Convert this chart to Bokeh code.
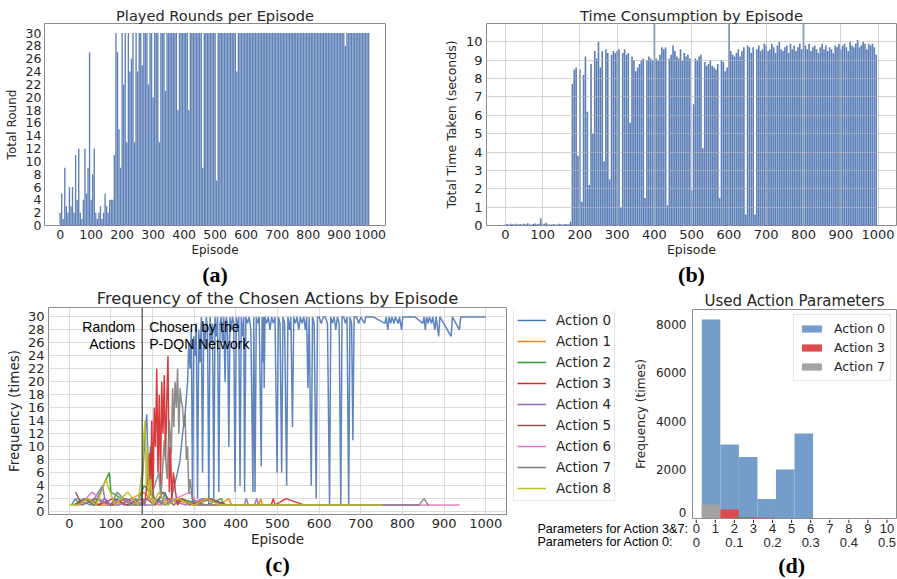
from bokeh.plotting import figure
from bokeh.layouts import row, column
from bokeh.models import (Label, Legend, LegendItem, Span, FixedTicker, Range1d, Title)
from bokeh.core.properties import value
from bokeh.embed import file_html
from bokeh.resources import INLINE

# ---------------- data ----------------
# (a) played rounds per episode (sampled every 5 episodes)
episodes = list(range(0, 1000, 5))
rounds = [2, 5, 1, 9, 3, 2, 6, 3, 6, 2, 11, 4, 12, 2, 1, 4, 12, 5, 9, 27,
          4, 8, 12, 2, 1, 2, 3, 1, 2, 5, 3, 2, 4, 4, 4, 11,
          30, 27, 15, 9, 30, 22, 30, 13, 30, 24, 26, 30, 13, 30, 24, 30, 30, 25, 30, 30,
          30, 22, 30, 30,
          20, 30, 30, 30, 13, 30, 30, 30, 21, 30, 30, 30, 30, 30, 30, 30, 18, 30, 30, 30,
          30, 30, 30, 18, 30, 30, 30, 30, 30, 30, 30, 30, 9, 30, 30, 30, 30, 30, 30, 30,
          30, 7, 30, 30, 30, 30, 30, 30, 30, 30, 30, 30, 30, 30, 24, 30, 30, 30, 30, 30,
          30, 30, 30, 30, 30, 30, 30, 30, 30, 30, 30, 30, 30, 30, 30, 30, 30, 30, 30, 30,
          30, 30, 30, 30, 30, 30, 30, 30, 30, 30, 30, 30, 30, 30, 30, 30, 30, 30, 30, 30,
          30, 30, 30, 30, 30, 30, 30, 30, 30, 30, 30, 30, 30, 30, 30, 30, 30, 30, 30, 30,
          30, 30, 30, 30, 28, 30, 30, 30, 30, 30, 30, 30, 30, 30, 30, 30, 30, 30, 30, 30]

# (b) time taken per episode (seconds, sampled every 5 episodes)
times = [0.05, 0.08, 0.06, 0.1, 0.07, 0.05, 0.09, 0.06, 0.08, 0.05,
         0.1, 0.07, 0.12, 0.06, 0.05, 0.08, 0.11, 0.07, 0.09, 0.4,
         0.07, 0.1, 0.15, 0.06, 0.05, 0.06, 0.08, 0.05, 0.06, 0.1,
         0.07, 0.06, 0.08, 0.07, 0.07, 0.2,
         7.7, 8.5, 8.6, 3.8, 8.5, 1.3, 8.2, 9.2, 6.2, 2.2,
         8.8, 5.0, 9.5, 9.1, 10.0, 8.6, 9.5, 3.5, 9.6, 9.4,
         2.5, 9.3, 9.5, 9.4,
         9.5, 9.6, 1.0, 9.4, 9.6, 9.3, 9.4, 5.6, 9.2, 9.0,
         8.4, 8.6, 8.8, 9.0, 9.1, 1.5, 9.0, 9.2, 9.1, 9.0,
         12.0, 9.1, 9.0, 9.3, 9.7, 9.6, 9.7, 1.1, 9.1, 9.3,
         9.8, 9.5, 9.2, 9.1, 9.6, 9.0, 9.4, 9.2, 9.3, 9.1,
         1.9, 6.6, 9.1, 9.0, 9.2, 9.3, 4.2, 8.9, 8.7, 8.8,
         9.0, 8.7, 8.6, 8.5, 8.8, 1.5, 9.0, 8.9, 8.4, 8.6,
         12.0, 9.5, 9.3, 9.2, 9.4, 9.6, 9.2, 9.5, 9.7, 0.6,
         9.8, 9.7, 9.4, 9.7, 0.6, 9.6, 9.8, 9.5, 9.6, 9.9,
         9.8, 9.5, 9.6, 9.9, 9.7, 9.4, 9.8, 10.0, 9.6, 9.5,
         9.7, 9.8, 9.4, 9.9, 9.6, 9.8, 9.5, 9.7, 9.9, 9.6,
         12.0, 9.8, 9.6, 9.9, 9.5, 9.7, 9.8, 9.6, 9.4, 9.7,
         9.9, 9.6, 9.8, 9.5, 9.7, 9.6, 9.4, 9.8, 9.7, 9.9,
         9.6, 9.8, 9.9, 9.7, 9.5, 10.0, 9.8, 9.7, 9.9, 10.1,
         9.7, 9.8, 10.0, 9.9, 9.6, 9.9, 9.8, 9.9, 9.7, 9.3]

# (c) frequency of chosen actions (episode, count)
a0_ep = [5, 15, 25, 40, 55, 70, 85, 100, 115, 130, 145, 160, 172, 183, 186, 190, 195, 200,
         208, 215, 222, 230, 238, 245, 252, 260, 266, 272, 278,
         284, 287, 290, 293, 296, 299, 302, 305, 308, 311, 314, 317, 320, 323, 326, 329,
         332, 335, 338, 341, 344, 347, 350, 353, 356, 359, 362, 365, 368, 371, 374, 377,
         380, 383, 386, 389, 392, 395, 398, 401, 404, 407, 410, 413, 416, 419,
         421, 424, 428, 432, 436, 441, 443, 446, 449, 452, 456, 461, 463, 465, 467, 468,
         470, 474, 478, 482, 486, 490, 494, 499, 502, 506, 510, 513, 517, 522, 525, 529,
         532, 536, 539, 543, 547, 551, 555, 559, 563, 567, 570, 573, 576, 581, 584, 588,
         593, 596, 600, 605, 610, 615, 620, 625, 628, 632, 636, 640, 644, 648, 652, 655,
         659, 663, 667, 671, 674, 678, 681, 684, 690, 695, 700,
         709, 712, 730, 758, 761, 765, 768, 772, 775, 780, 783, 790, 793, 798, 801, 830,
         849, 852, 855, 858, 862, 865, 870, 873, 878, 881, 887, 890, 917, 920, 937, 940, 1000]
a0_ct = [1, 2, 1, 2, 1, 1, 2, 1, 2, 1, 1, 2, 1, 13, 15, 4, 10, 3,
         1, 2, 1, 3, 1, 2, 4, 6, 8, 12, 15,
         20, 26, 22, 28, 1, 27, 24, 29, 2, 28, 23, 30, 6, 29, 25, 30,
         28, 1, 30, 26, 29, 2, 30, 27, 30, 3, 29, 30, 26, 30, 20, 30,
         29, 10, 30, 28, 30, 29, 3, 30, 28, 30, 4, 30, 27, 30,
         3, 30, 29, 30, 28, 3, 30, 3, 30, 29, 30, 7, 30, 23, 30, 19,
         30, 29, 30, 28, 30, 29, 30, 6, 30, 29, 6, 30, 29, 4, 30, 28,
         30, 13, 30, 29, 30, 28, 30, 29, 30, 28, 30, 19, 30, 4, 30, 29,
         2, 30, 30, 29, 30, 30, 29, 1, 30, 29, 30, 28, 30, 29, 1, 30,
         30, 29, 30, 1, 30, 29, 11, 30, 30, 29, 30,
         29, 30, 30, 29, 30, 28, 30, 29, 30, 29, 30, 29, 30, 28, 30, 30,
         29, 30, 28, 30, 29, 30, 29, 30, 28, 30, 27, 30, 27, 30, 28, 30, 30]
a1_ep = [20, 45, 75, 110, 150, 178, 195, 215, 240, 300, 360, 383, 390, 455, 460, 464]
a1_ct = [1, 2, 1, 1, 2, 3, 2, 1, 2, 1, 1, 2, 1, 1, 2, 1]
a2_ep = [10, 35, 60, 96, 100, 125, 160, 180, 205, 230, 260, 330, 365, 370]
a2_ct = [1, 2, 1, 6, 3, 2, 1, 4, 2, 1, 2, 1, 2, 1]
a3_ep = [15, 40, 70, 105, 140, 176, 181, 188, 192, 195, 198, 201, 204, 207, 210, 213,
         216, 219, 222, 225, 228, 231, 234, 237, 240, 243, 246, 250, 255, 260, 270,
         290, 330, 375, 485, 490, 494, 520, 565]
a3_ct = [1, 2, 1, 2, 1, 2, 1, 5, 9, 3, 14, 2, 16, 10, 22, 6,
         18, 4, 20, 12, 21, 8, 17, 24, 3, 10, 2, 6, 3, 1, 2,
         1, 2, 1, 1, 2, 1, 2, 1]
a4_ep = [20, 50, 80, 85, 95, 120, 150, 178, 200, 230, 280, 320, 378, 420, 425, 430,
         445, 450, 455, 840]
a4_ct = [2, 1, 4, 2, 1, 1, 2, 1, 1, 2, 1, 2, 1, 1, 2, 1, 1, 2, 1, 1]
a5_ep = [15, 30, 65, 100, 135, 170, 185, 205, 225, 250, 270, 300, 340, 380]
a5_ct = [3, 1, 2, 1, 2, 1, 2, 1, 3, 1, 2, 1, 2, 1]
a6_ep = [25, 55, 90, 130, 165, 190, 220, 255, 290, 310, 345, 937]
a6_ct = [1, 3, 1, 2, 1, 2, 1, 2, 3, 1, 1, 1]
a7_ep = [30, 60, 100, 115, 145, 175, 200, 215, 220, 228, 235, 240, 245, 248, 251, 254,
         257, 260, 263, 266, 269, 272, 275, 278, 281, 284, 287, 290, 295, 310, 350,
         400, 840, 852, 862]
a7_ct = [1, 2, 1, 3, 1, 1, 3, 6, 2, 11, 5, 14, 9, 19, 13, 20,
         16, 22, 12, 19, 17, 16, 13, 15, 8, 10, 3, 5, 2, 1, 1,
         1, 1, 2, 1]
a8_ep = [0, 20, 45, 65, 88, 92, 98, 110, 140, 165, 176, 179, 182, 185, 188, 191, 195,
         200, 215, 235, 260, 300, 330, 360, 390, 753]
a8_ct = [1, 1, 2, 1, 5, 4, 3, 1, 3, 1, 7, 12, 14, 4, 10, 2, 5,
         1, 3, 1, 2, 1, 2, 1, 1, 1]

action_names = ["Action 0", "Action 1", "Action 2", "Action 3", "Action 4",
                "Action 5", "Action 6", "Action 7", "Action 8"]
action_colors = ["#4c78b8", "#ff7f0e", "#2ca02c", "#d62728", "#9467bd",
                 "#8c564b", "#e377c2", "#7f7f7f", "#bcbd22"]

# (d) histogram of used action parameters
bin_left = [0, 1, 2, 3, 4, 5, 6, 7, 8, 9]
bin_right = [1, 2, 3, 4, 5, 6, 7, 8, 9, 10]
hist_a0 = [8200, 3050, 2530, 800, 2020, 3500, 0, 0, 0, 0]
hist_a3 = [0, 370, 50, 30, 10, 10, 5, 5, 5, 20]
hist_a7 = [580, 0, 0, 0, 0, 0, 0, 0, 0, 0]
freq_ticks = [250, 2000, 4000, 6000, 8000]      # the "0" label sits slightly raised, as drawn
freq_labels = {250: "0", 2000: "2000", 4000: "4000", 6000: "6000", 8000: "8000"}
param37_pos = [0, 1, 2, 3, 4, 5, 6, 7, 8, 9, 10]
param37_labels = ["0", "1", "2", "3", "4", "5", "6", "7", "8", "9", "10"]
param0_pos = [0, 2, 4, 6, 8, 10]
param0_labels = ["0", "0.1", "0.2", "0.3", "0.4", "0.5"]
row_titles = ["Parameters for Action 3&7:", "Parameters for Action 0:"]

TXT = "#262626"
FONT = "DejaVu Sans"


def style_axis(ax):
    ax.axis_line_color = None
    ax.major_tick_line_color = None
    ax.minor_tick_line_color = None
    ax.major_tick_out = 0
    ax.major_tick_in = 0
    ax.minor_tick_out = 0
    ax.minor_tick_in = 0
    ax.major_label_text_font = FONT
    ax.axis_label_text_font = FONT
    ax.axis_label_text_font_style = "normal"
    ax.major_label_text_color = TXT
    ax.axis_label_text_color = TXT


def make_fig(w, h, l, r, t, b, xr, yr, xaxis=True):
    p = figure(width=w, height=h, x_range=Range1d(*xr), y_range=Range1d(*yr),
               output_backend="svg", toolbar_location=None, title=None,
               x_axis_location="below" if xaxis else None,
               min_border_left=l, min_border_right=r, min_border_top=t,
               min_border_bottom=b)
    p.outline_line_color = "#8c8c8c"
    p.outline_line_width = 1
    p.background_fill_color = "white"
    p.border_fill_color = "white"
    for ax in list(p.xaxis) + list(p.yaxis):
        style_axis(ax)
    for g in list(p.xgrid) + list(p.ygrid):
        g.grid_line_color = None
    return p


def blank_fig(w, h, xr, yr):
    p = figure(width=w, height=h, x_range=Range1d(*xr), y_range=Range1d(*yr),
               x_axis_location=None, y_axis_location=None, output_backend="svg",
               toolbar_location=None, title=None, min_border_left=0, min_border_right=0,
               min_border_top=0, min_border_bottom=0)
    p.outline_line_color = None
    p.grid.visible = False
    return p


def add_title(p, text, size):
    p.add_layout(Title(text=text, align="center", text_font=FONT, text_font_size=size,
                       text_font_style="normal", text_color=TXT, standoff=0), "above")


def add_tag(p, text):
    p.add_layout(Title(text=text, align="center", text_font="Liberation Serif",
                       text_font_size="22px", text_font_style="bold",
                       text_color="black", standoff=0), "below")


ep_ticks = list(range(0, 1001, 100))

# ---------------- (a) ----------------
pa = make_fig(440, 286, 44, 55, 23, 59, (-50.4, 1049.4), (0, 31.5))
pa.vbar(x=episodes, top=rounds, width=4.4, bottom=0, fill_color="#4c72b0",
        fill_alpha=0.9, line_color=None)
pa.xaxis.ticker = FixedTicker(ticks=ep_ticks)
pa.yaxis.ticker = FixedTicker(ticks=list(range(0, 31, 2)))
pa.xaxis.axis_label = "Episode"
pa.yaxis.axis_label = "Total Round"
for ax in (pa.xaxis[0], pa.yaxis[0]):
    ax.major_label_text_font_size = "12.5px"
    ax.axis_label_text_font_size = "12px"
pa.xaxis.major_label_standoff = 4
pa.xaxis.axis_label_standoff = 1
pa.yaxis.major_label_standoff = 3
pa.yaxis.axis_label_standoff = 4
add_title(pa, "Played Rounds per Episode", "14.6px")
add_tag(pa, "(a)")

# ---------------- (b) ----------------
pb = make_fig(457, 286, 46, 1, 23, 59, (-50.4, 1049.4), (0, 11))
pb.vbar(x=episodes, top=times, width=4.4, bottom=0, fill_color="#4c72b0",
        fill_alpha=0.9, line_color=None)
pb.xaxis.ticker = FixedTicker(ticks=ep_ticks)
pb.yaxis.ticker = FixedTicker(ticks=list(range(0, 11)))
pb.xgrid.grid_line_color = "#b8b8b8"
pb.ygrid.grid_line_color = "#b8b8b8"
pb.xgrid.grid_line_alpha = 0.6
pb.ygrid.grid_line_alpha = 0.6
pb.xgrid.level = "overlay"
pb.ygrid.level = "overlay"
pb.xaxis.axis_label = "Episode"
pb.yaxis.axis_label = "Total Time Taken (seconds)"
for ax in (pb.xaxis[0], pb.yaxis[0]):
    ax.major_label_text_font_size = "13px"
    ax.axis_label_text_font_size = "12.5px"
pb.xaxis.major_label_standoff = 4
pb.xaxis.axis_label_standoff = 0
pb.yaxis.major_label_standoff = 4
pb.yaxis.axis_label_standoff = 4
add_title(pb, "Time Consumption by Episode", "14.7px")
add_tag(pb, "(b)")

# ---------------- (c) ----------------
pc = make_fig(510, 293, 48, 4, 19, 65, (-50, 1050), (-0.45, 31.45))
pc.xgrid.grid_line_color = "#dcdcdc"
pc.ygrid.grid_line_color = "#dcdcdc"
pc.xaxis.ticker = FixedTicker(ticks=ep_ticks)
pc.yaxis.ticker = FixedTicker(ticks=list(range(0, 31, 2)))
series = [(a0_ep, a0_ct), (a1_ep, a1_ct), (a2_ep, a2_ct), (a3_ep, a3_ct), (a4_ep, a4_ct),
          (a5_ep, a5_ct), (a6_ep, a6_ct), (a7_ep, a7_ct), (a8_ep, a8_ct)]
for (xs, ys), col in zip(series, action_colors):
    pc.line(xs, ys, line_color=col, line_width=1.5, line_alpha=0.9)
pc.add_layout(Span(location=175, dimension="height", line_color="#202020", line_width=1))
for txt, yy, align, off in [("Random", 28.4, "right", -7), ("Actions", 25.9, "right", -7),
                            ("Chosen by the", 28.4, "left", 7),
                            ("P-DQN Network", 25.9, "left", 7)]:
    pc.add_layout(Label(x=175, y=yy, x_offset=off, text=txt, text_align=align,
                        text_baseline="alphabetic", text_font="Liberation Sans",
                        text_font_size="14px", text_color="black"))
pc.xaxis.axis_label = "Episode"
pc.yaxis.axis_label = "Frequency (times)"
for ax in (pc.xaxis[0], pc.yaxis[0]):
    ax.major_label_text_font_size = "13px"
    ax.axis_label_text_font_size = "13.5px"
pc.xaxis.major_label_standoff = 4
pc.xaxis.axis_label_standoff = 0
pc.yaxis.major_label_standoff = 4
pc.yaxis.axis_label_standoff = 3
add_title(pc, "Frequency of the Chosen Actions by Episode", "16.3px")
add_tag(pc, "(c)")

# legend of panel (c), in its own small canvas to the right of (c)
pl = blank_fig(120, 233, (0, 1), (0, 1))
dummy = [pl.line(x=[0, 1], y=[-5, -5], line_color=c, line_width=1.5) for c in action_colors]
legc = Legend(items=[LegendItem(label=n, renderers=[r]) for n, r in zip(action_names, dummy)],
              location=(3, 17))
legc.padding = 3
legc.spacing = 3
legc.glyph_width = 29
legc.glyph_height = 18
legc.label_height = 18
legc.label_standoff = 10
legc.label_text_font = FONT
legc.label_text_font_size = "13.5px"
legc.label_text_color = TXT
legc.border_line_color = "#cccccc"
pl.add_layout(legc, "center")

# ---------------- (d) ----------------
pd_ = make_fig(267, 233, 56, 1, 23, 1, (-0.5, 10.5), (0, 8610), xaxis=False)
r0 = pd_.quad(left=bin_left, right=bin_right, bottom=0, top=hist_a0,
              fill_color="#759dca", line_color=None)
r3 = pd_.quad(left=bin_left, right=bin_right, bottom=0, top=hist_a3,
              fill_color="#dd4a4d", line_color=None)
r7 = pd_.quad(left=bin_left, right=bin_right, bottom=0, top=hist_a7,
              fill_color="#a3a3a3", line_color=None)
pd_.yaxis.ticker = FixedTicker(ticks=freq_ticks)
pd_.yaxis.major_label_overrides = freq_labels
pd_.yaxis.axis_label = "Frequency (times)"
pd_.yaxis.major_label_text_font_size = "12px"
pd_.yaxis.axis_label_text_font_size = "12.2px"
pd_.yaxis.major_label_standoff = 6
pd_.yaxis.axis_label_standoff = 5
add_title(pd_, "Used Action Parameters", "15px")
legd = Legend(items=[LegendItem(label="Action 0", renderers=[r0]),
                     LegendItem(label="Action 3", renderers=[r3]),
                     LegendItem(label="Action 7", renderers=[r7])],
              location="top_right")
legd.margin = 5
legd.padding = 5
legd.spacing = 2
legd.glyph_width = 25
legd.glyph_height = 9
legd.label_height = 17
legd.label_standoff = 10
legd.label_text_font = FONT
legd.label_text_font_size = "12.5px"
legd.label_text_color = TXT
legd.border_line_color = "#cccccc"
legd.background_fill_alpha = 0.85
pd_.add_layout(legd, "center")

# strip below (d): tick marks, two rows of parameter tick labels and the panel tag
ps = blank_fig(387, 60, (-9.74, 10.5525), (0, 60))
ps.segment(x0=param37_pos, y0=[60] * len(param37_pos), x1=param37_pos,
           y1=[56.5] * len(param37_pos), line_color=TXT, line_width=1)
lab_font = value("Liberation Sans")
ps.text(x=param37_pos, y=[50.7] * len(param37_pos), text=param37_labels,
        text_font=lab_font, text_font_size=value("13px"), text_align="center",
        text_baseline="middle", text_color=TXT)
ps.text(x=param0_pos, y=[37.3] * len(param0_pos), text=param0_labels,
        text_font=lab_font, text_font_size=value("13px"), text_align="center",
        text_baseline="middle", text_color=TXT)
ps.text(x=[-8.33, -8.33], y=[50.7, 37.3], text=row_titles, text_font=lab_font,
        text_font_size=value("12.6px"), text_align="left", text_baseline="middle",
        text_color="black")
ps.text(x=[5], y=[14], text=["(d)"], text_font=value("Liberation Serif"),
        text_font_style="bold", text_font_size=value("22px"), text_align="center",
        text_baseline="middle", text_color="black")

layout = column(row(pa, pb), row(pc, column(row(pl, pd_), ps)))
open("out.html", "w").write(file_html(layout, INLINE))
